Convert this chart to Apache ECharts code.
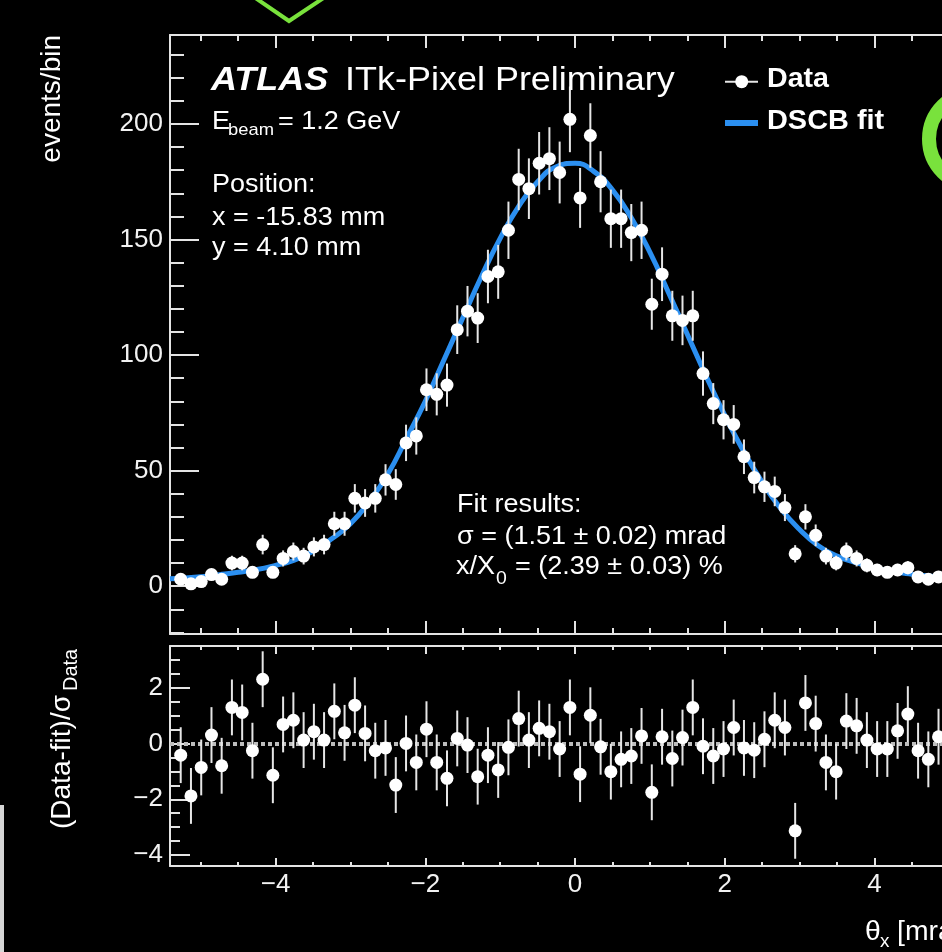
<!DOCTYPE html>
<html><head><meta charset="utf-8">
<script src="https://cdn.jsdelivr.net/npm/echarts@6/dist/echarts.min.js"></script>
<style>html,body{margin:0;padding:0;background:#000;overflow:hidden;width:942px;height:952px}#c{width:1000px;height:952px}</style>
</head><body><div id="c"></div>
<script>
// ---- data ----
const binCenters = [-5.267,-5.130,-4.993,-4.856,-4.720,-4.583,-4.446,-4.309,-4.172,-4.036,
  -3.899,-3.762,-3.625,-3.488,-3.352,-3.215,-3.078,-2.941,-2.804,-2.668,
  -2.531,-2.394,-2.257,-2.120,-1.984,-1.847,-1.710,-1.573,-1.436,-1.300,
  -1.163,-1.026,-0.889,-0.752,-0.616,-0.479,-0.342,-0.205,-0.068,0.068,
  0.205,0.342,0.479,0.616,0.752,0.889,1.026,1.163,1.300,1.436,
  1.573,1.710,1.847,1.984,2.120,2.257,2.394,2.531,2.668,2.804,
  2.941,3.078,3.215,3.352,3.488,3.625,3.762,3.899,4.036,4.172,
  4.309,4.446,4.583,4.720,4.856];
const counts = [3,1,2,5,3,10,10,6,18,6,
  12,15,13,17,18,27,27,38,36,38,
  46,44,62,65,85,83,87,111,119,116,
  134,136,154,176,172,183,185,179,202,168,
  195,175,159,159,153,154,122,135,117,115,
  117,92,79,72,70,56,47,43,41,34,
  14,30,22,13,10,15,12,9,7,6,
  7,8,4,3,4];
const pulls = [-0.42,-1.88,-0.86,0.30,-0.80,1.29,1.11,-0.26,2.30,-1.14,
  0.68,0.83,0.12,0.42,0.12,1.15,0.38,1.37,0.36,-0.26,
  -0.16,-1.49,0.00,-0.68,0.51,-0.68,-1.25,0.18,-0.06,-1.19,
  -0.42,-0.95,-0.14,0.89,0.12,0.54,0.42,-0.20,1.29,-1.10,
  1.01,-0.12,-1.01,-0.57,-0.45,0.27,-1.75,0.24,-0.54,0.21,
  1.29,-0.10,-0.45,-0.20,0.57,-0.16,-0.24,0.15,0.83,0.57,
  -3.13,1.45,0.71,-0.68,-1.01,0.80,0.63,0.12,-0.20,-0.20,
  0.45,1.05,-0.26,-0.57,0.24];
const fitX = [-5.41,-5.25,-5.0,-4.75,-4.5,-4.25,-4.0,-3.75,-3.5,-3.25,-3.0,-2.75,-2.5,-2.25,-2.0,-1.75,-1.5,-1.25,-1.0,-0.75,-0.5,-0.25,0,
  0.25,0.5,0.75,1.0,1.25,1.5,1.75,2.0,2.25,2.5,2.75,3.0,3.25,3.5,3.75,4.0,4.25,4.5,4.75,5.0,5.41];
const fitY = [3.2,3.5,4.1,5.0,6.0,7.2,9.0,11.2,15.2,20.5,27.0,36.5,48.5,64.0,80.0,98.0,116.0,134.0,150.5,164.5,175.0,181.5,183.0,
  179.5,171.5,159.5,144.5,127.0,109.0,91.0,74.0,58.5,45.0,33.5,24.5,17.5,13.0,10.2,7.9,6.3,5.2,4.3,3.6,3.0];
const xMajor = [-4,-2,0,2,4];
const xMinor = [-5,-4.5,-3.5,-3,-2.5,-1.5,-1,-0.5,0.5,1,1.5,2.5,3,3.5,4.5,5];
const yMajor = [0,50,100,150,200];
const yMinor = [-20,-10,10,20,30,40,60,70,80,90,110,120,130,140,160,170,180,190,210,220,230];
const rMajor = [-4,-2,0,2];
const rMinor = [-3.5,-3,-2.5,-1.5,-1,-0.5,0.5,1,1.5,2.5,3];

// ---- layout ----
const XMIN=-5.41, XMAX=5.41, YMIN=-20.7, YMAX=238.5, RMIN=-4.39, RMAX=3.49;
const AX='#e4e4e4', FONT='"Liberation Sans", Arial, sans-serif';
const fmt = v => (v<0?'\u2212':'') + Math.abs(v);

function xAx(g, pos, vals, len, label, line){
  return {type:'value', gridIndex:g, position:pos, min:XMIN, max:XMAX,
    axisLine:{show:line, onZero:false, lineStyle:{color:AX,width:2}},
    axisTick:{show:true, inside:true, length:len, customValues:vals, lineStyle:{color:AX,width:2}},
    axisLabel:{show:label, customValues:vals, formatter:fmt, color:'#f2f2f2', fontSize:26, fontFamily:FONT, margin:6},
    splitLine:{show:false}, minorTick:{show:false}};
}
function yAx(g, min, max, vals, len, label, line){
  return {type:'value', gridIndex:g, position:'left', min, max,
    axisLine:{show:line, onZero:false, lineStyle:{color:AX,width:2}},
    axisTick:{show:true, inside:true, length:len, customValues:vals, lineStyle:{color:AX,width:2}},
    axisLabel:{show:label, customValues:vals, formatter:fmt, color:'#f2f2f2', fontSize:26, fontFamily:FONT, margin:7},
    splitLine:{show:false}};
}

function errRender(params, api){
  const x=api.value(0), lo=api.value(1), hi=api.value(2);
  const a=api.coord([x,lo]), b=api.coord([x,hi]);
  return {type:'line', shape:{x1:a[0],y1:a[1],x2:b[0],y2:b[1]}, style:{stroke:'#e6e6e6', lineWidth:2}};
}

const dataErr = binCenters.map((x,i)=>[x, counts[i]-Math.sqrt(counts[i]), counts[i]+Math.sqrt(counts[i])]);
const dataPts = binCenters.map((x,i)=>[x, counts[i]]);
const pullErr = binCenters.map((x,i)=>[x, pulls[i]-1, pulls[i]+1]);
const pullPts = binCenters.map((x,i)=>[x, pulls[i]]);
const fitPts = fitX.map((x,i)=>[x, fitY[i]]);

const txt = (x,y,text,size,o={}) => ({type:'text', x, y, scaleX:o.sx||1.08, z:100,
  style:{text, fill:'#ffffff', font:`${o.st||'normal'} ${o.w||'normal'} ${size}px ${FONT}`,
    textAlign:o.al||'left', align:o.al||'left', textVerticalAlign:'middle', verticalAlign:'middle'}});

const GREEN='#79e23c';
const chart = echarts.init(document.getElementById('c'), null, {renderer:'canvas'});
chart.setOption({
  backgroundColor:'#000',
  animation:false,
  grid:[{left:170, top:35, width:810, height:599},{left:170, top:646, width:810, height:220}],
  xAxis:[
    xAx(0,'bottom',xMajor,13,false,true), xAx(0,'bottom',xMinor,6,false,false),
    xAx(0,'top',xMajor,13,false,true), xAx(0,'top',xMinor,6,false,false),
    xAx(1,'bottom',xMajor,8,true,true), xAx(1,'bottom',xMinor,4,false,false),
    xAx(1,'top',xMajor,8,false,true), xAx(1,'top',xMinor,4,false,false)
  ],
  yAxis:[
    yAx(0,YMIN,YMAX,yMajor,29,true,true), yAx(0,YMIN,YMAX,yMinor,14,false,false),
    yAx(1,RMIN,RMAX,rMajor,20,true,true), yAx(1,RMIN,RMAX,rMinor,10,false,false)
  ],
  series:[
    {type:'line', name:'DSCB fit', xAxisIndex:0, yAxisIndex:0, data:fitPts, smooth:0.5, showSymbol:false,
      lineStyle:{color:'#2b8ff0', width:5}, z:2, silent:true},
    {type:'custom', name:'Data err', xAxisIndex:0, yAxisIndex:0, data:dataErr, renderItem:errRender,
      encode:{x:0,y:[1,2]}, z:3, silent:true},
    {type:'scatter', name:'Data', xAxisIndex:0, yAxisIndex:0, data:dataPts, symbol:'circle', symbolSize:13,
      itemStyle:{color:'#ffffff', opacity:1}, z:4, silent:true},
    {type:'custom', name:'Pull err', xAxisIndex:4, yAxisIndex:2, data:pullErr, renderItem:errRender,
      encode:{x:0,y:[1,2]}, z:3, silent:true},
    {type:'scatter', name:'Pull', xAxisIndex:4, yAxisIndex:2, data:pullPts, symbol:'circle', symbolSize:13,
      itemStyle:{color:'#ffffff', opacity:1}, z:4, silent:true,
      markLine:{silent:true, symbol:'none', label:{show:false}, z:1,
        lineStyle:{color:'#bdbdbd', width:4, type:[4,3]}, data:[{yAxis:0}]}}
  ],
  graphic:[
    // slide artefacts
    {type:'polyline', shape:{points:[[254,-3],[289,21],[325,-3]]}, style:{stroke:GREEN, lineWidth:4, fill:null}},
    {type:'circle', shape:{cx:976, cy:139, r:47}, style:{stroke:GREEN, lineWidth:14, fill:null}},
    {type:'rect', shape:{x:0, y:805, width:4, height:147}, style:{fill:'#d6d6d6'}},
    // ATLAS label
    txt(211,81,'ATLAS',33,{st:'italic', w:'bold', sx:1.09}),
    txt(345,81,'ITk-Pixel Preliminary',33,{sx:1.09}),
    txt(212,122,'E',25),
    txt(228,130.7,'beam',17),
    txt(278,122,'= 1.2 GeV',25),
    txt(212,185,'Position:',25),
    txt(212,218,'x = -15.83 mm',25),
    txt(212,248.3,'y = 4.10 mm',25),
    txt(457,505,'Fit results:',25),
    txt(457,537.5,'\u03c3 = (1.51 \u00b1 0.02) mrad',25),
    txt(456,567.5,'x/X',25),
    txt(496,579.3,'0',18),
    txt(515,567.5,'= (2.39 \u00b1 0.03) %',25),
    // legend
    {type:'line', shape:{x1:725,y1:81.7,x2:758,y2:81.7}, style:{stroke:'#e6e6e6', lineWidth:2}},
    {type:'circle', shape:{cx:741.7, cy:81.7, r:6.5}, style:{fill:'#ffffff'}},
    txt(767,80,'Data',27,{w:'bold', sx:1.06}),
    {type:'line', shape:{x1:725,y1:123,x2:758,y2:123}, style:{stroke:'#2b8ff0', lineWidth:6}},
    txt(767,122,'DSCB fit',27,{w:'bold', sx:1.07}),
    // axis titles
    {type:'group', x:52, y:35, rotation:Math.PI/2, children:[
      {type:'text', x:0, y:0, style:{text:'events/bin', fill:'#fff', font:`normal 28px ${FONT}`, textAlign:'right', align:'right', textVerticalAlign:'middle', verticalAlign:'middle'}}
    ]},
    {type:'group', x:62, y:829, rotation:Math.PI/2, children:[
      {type:'text', x:0, y:0, style:{text:'(Data-fit)/\u03c3', fill:'#fff', font:`normal 28px ${FONT}`, textAlign:'left', align:'left', textVerticalAlign:'middle', verticalAlign:'middle'}},
      {type:'text', x:138, y:9, style:{text:'Data', fill:'#fff', font:`normal 20px ${FONT}`, textAlign:'left', align:'left', textVerticalAlign:'middle', verticalAlign:'middle'}}
    ]},
    txt(865,933,'\u03b8',27,{sx:1.05}),
    txt(880,942,'x',18,{sx:1.05}),
    txt(897,933,'[mrad]',27,{sx:1.05})
  ]
});
</script></body></html>
